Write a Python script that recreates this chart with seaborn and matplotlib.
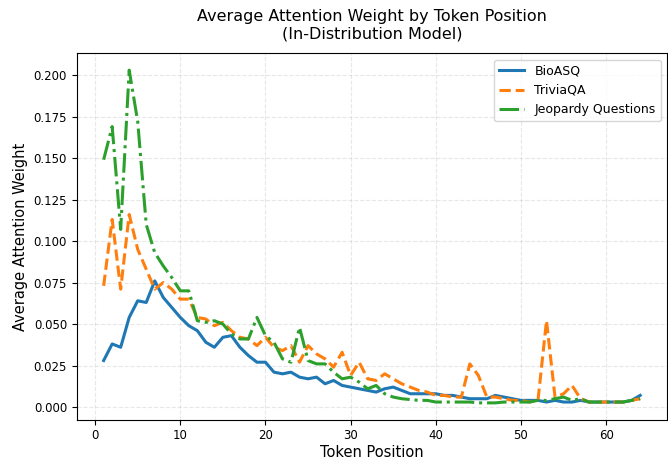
import matplotlib
matplotlib.use('Agg')
import matplotlib.pyplot as plt
import numpy as np
import pandas as pd
import seaborn as sns

positions = list(range(1, 65))

bioasq = [0.028, 0.038, 0.036, 0.054, 0.064, 0.063, 0.076, 0.066, 0.060, 0.054,
          0.049, 0.046, 0.039, 0.036, 0.042, 0.043, 0.036, 0.031, 0.027, 0.027,
          0.021, 0.020, 0.021, 0.018, 0.017, 0.018, 0.014, 0.016, 0.013, 0.012,
          0.011, 0.010, 0.009, 0.011, 0.012, 0.010, 0.008, 0.008, 0.008, 0.008,
          0.007, 0.007, 0.006, 0.005, 0.005, 0.005, 0.007, 0.006, 0.005, 0.004,
          0.004, 0.004, 0.003, 0.004, 0.003, 0.003, 0.004, 0.003, 0.003, 0.003,
          0.003, 0.003, 0.004, 0.007]

triviaqa = [0.073, 0.113, 0.071, 0.116, 0.095, 0.083, 0.071, 0.075, 0.071, 0.065,
            0.065, 0.054, 0.053, 0.049, 0.051, 0.046, 0.042, 0.041, 0.037, 0.042,
            0.036, 0.034, 0.037, 0.027, 0.037, 0.032, 0.029, 0.024, 0.033, 0.019,
            0.027, 0.017, 0.016, 0.020, 0.017, 0.014, 0.012, 0.010, 0.009, 0.007,
            0.007, 0.006, 0.006, 0.026, 0.019, 0.006, 0.006, 0.005, 0.004, 0.004,
            0.003, 0.004, 0.052, 0.006, 0.008, 0.013, 0.005, 0.003, 0.003, 0.003,
            0.003, 0.003, 0.004, 0.005]

jeopardy = [0.149, 0.169, 0.107, 0.203, 0.172, 0.110, 0.093, 0.085, 0.078, 0.070,
            0.070, 0.052, 0.051, 0.052, 0.050, 0.044, 0.041, 0.041, 0.054, 0.043,
            0.039, 0.029, 0.027, 0.048, 0.028, 0.026, 0.026, 0.021, 0.017, 0.018,
            0.015, 0.011, 0.013, 0.008, 0.006, 0.005, 0.0045, 0.004, 0.004, 0.003,
            0.003, 0.003, 0.003, 0.003, 0.0025, 0.0025, 0.0025, 0.003, 0.003, 0.003,
            0.003, 0.004, 0.004, 0.005, 0.006, 0.004, 0.005, 0.003, 0.003, 0.003,
            0.003, 0.003, 0.004, 0.005]

series = [('BioASQ', bioasq, '-'),
          ('TriviaQA', triviaqa, '--'),
          ('Jeopardy Questions', jeopardy, '-.')]

colors = sns.color_palette('tab10')

fig, ax = plt.subplots(figsize=(6.68, 4.61), dpi=100)
for i, (name, vals, ls) in enumerate(series):
    df = pd.DataFrame({'pos': positions, 'weight': vals})
    sns.lineplot(data=df, x='pos', y='weight', ax=ax, color=colors[i],
                 linestyle=ls, linewidth=2.2, label=name)

ax.set_title('Average Attention Weight by Token Position\n(In-Distribution Model)',
             fontsize=11.5, pad=11)
ax.set_xlabel('Token Position', fontsize=10.5, labelpad=2)
ax.set_ylabel('Average Attention Weight', fontsize=10.5)
ax.tick_params(labelsize=8.5)
ax.grid(True, linestyle='--', alpha=0.3)
ax.legend(loc='upper right', fontsize=9)

fig.subplots_adjust(left=0.115, right=0.9985, top=0.884, bottom=0.09)
fig.savefig('out.png', dpi=100)
